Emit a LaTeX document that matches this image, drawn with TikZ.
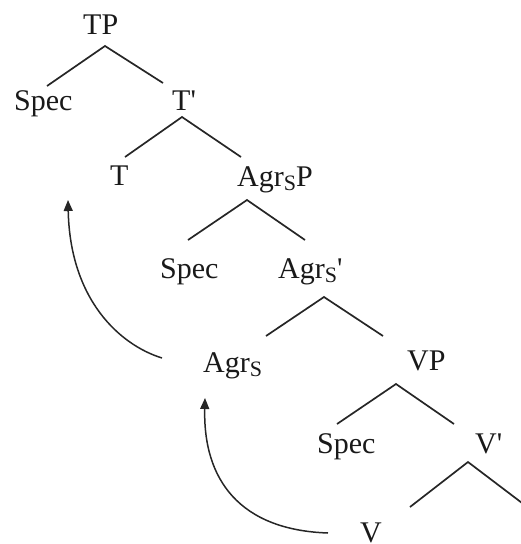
\documentclass[tikz,border=0pt]{standalone}
\usepackage{fontspec}
\usetikzlibrary{arrows.meta}
\newfontfamily\treefont{Liberation Serif}
\newcommand\subS{\raisebox{-4pt}{\fontsize{22}{22}\selectfont S}}
\tikzset{
  lbl/.style={anchor=base west, inner sep=0pt, font=\treefont\fontsize{30}{36}\selectfont, text=black!90},
  branch/.style={line width=1.7pt, draw=black!85},
  move/.style={line width=1.5pt, draw=black!85, -{Triangle[length=11pt,width=9pt]}}
}
\begin{document}
\begin{tikzpicture}[x=1pt,y=-1pt]
\useasboundingbox (0,0) rectangle (520,544);
% labels
\node[lbl] (TP) at (83,34) {TP};
\node[lbl] (SpecA) at (14,110) {Spec};
\node[lbl] (Tbar) at (172,110) {T'};
\node[lbl] (T) at (110,185) {T};
\node[lbl] (AgrSP) at (237,186) {Agr\subS P};
\node[lbl] (SpecB) at (160,278) {Spec};
\node[lbl] (Agrbar) at (278,278) {Agr\subS'};
\node[lbl] (AgrS) at (203,372) {Agr\subS};
\node[lbl] (VP) at (407,370) {VP};
\node[lbl] (SpecC) at (317,453) {Spec};
\node[lbl] (Vbar) at (475,453) {V'};
\node[lbl] (V) at (360,542) {V};
% branch points
\coordinate (TPa) at (105,46);   \coordinate (TPl) at (47,86);   \coordinate (TPr) at (163,83);
\coordinate (Tba) at (182,117);  \coordinate (Tbl) at (125,157); \coordinate (Tbr) at (241,157);
\coordinate (APa) at (247,200);  \coordinate (APl) at (188,240); \coordinate (APr) at (305,240);
\coordinate (Aba) at (324,297);  \coordinate (Abl) at (266,336); \coordinate (Abr) at (383,336);
\coordinate (VPa) at (396,384);  \coordinate (VPl) at (337,424); \coordinate (VPr) at (454,424);
\coordinate (Vba) at (468,462);  \coordinate (Vbl) at (410,507); \coordinate (Vbr) at (526,506);
\draw[branch] (TPl) -- (TPa) -- (TPr);
\draw[branch] (Tbl) -- (Tba) -- (Tbr);
\draw[branch] (APl) -- (APa) -- (APr);
\draw[branch] (Abl) -- (Aba) -- (Abr);
\draw[branch] (VPl) -- (VPa) -- (VPr);
\draw[branch] (Vbl) -- (Vba) -- (Vbr);
% movement arrows
\coordinate (m1s) at (162,358); \coordinate (m1e) at (68,200);
\coordinate (m2s) at (328,533); \coordinate (m2e) at (205,398);
\draw[move] (m1s) .. controls (120,345) and (70,300) .. (m1e);
\draw[move] (m2s) .. controls (240,530) and (203,480) .. (m2e);
\end{tikzpicture}
\end{document}
